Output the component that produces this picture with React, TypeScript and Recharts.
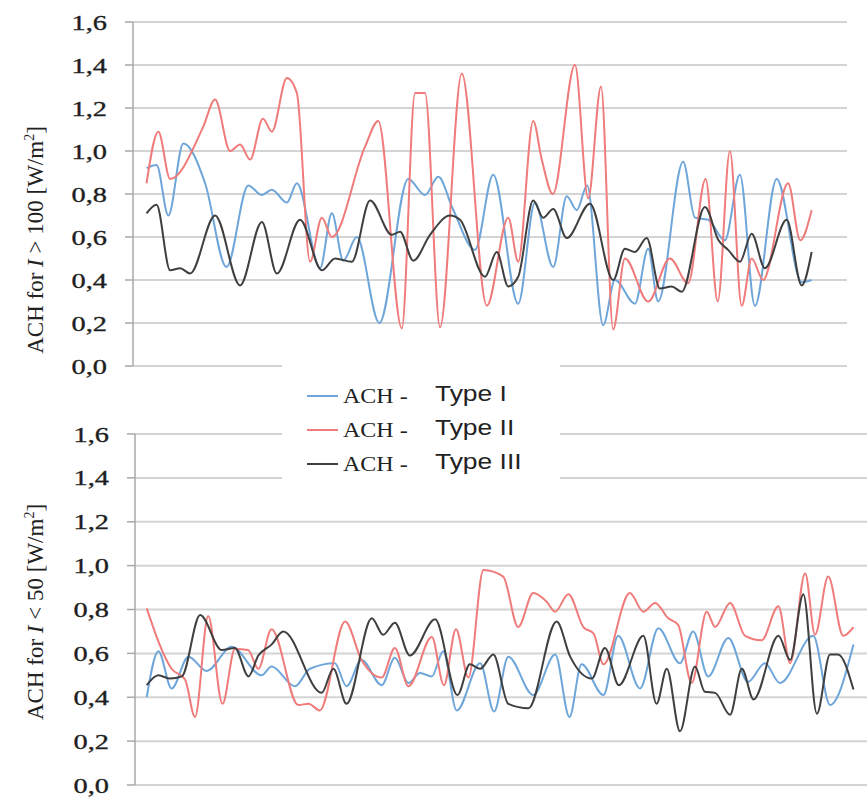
import React from 'react';
import { LineChart, Line, XAxis, YAxis, CartesianGrid } from 'recharts';

// ---- shared ----
const yTicks = [0, 0.2, 0.4, 0.6, 0.8, 1.0, 1.2, 1.4, 1.6];
const seriesNames = ['Type I', 'Type II', 'Type III'];
const seriesColors = ['#6fa6da', '#f07b7b', '#3f3f3f'];

// ---- top panel (I > 100 W/m2): [time step, ACH] ----
const topTypeI: [number, number][] = [
  [3.8, 0.92], [6.6, 0.935], [9.9, 0.7], [14.1, 1.035], [20.2, 0.85], [26.2, 0.46], [32.3, 0.84],
  [36.1, 0.795], [38.9, 0.82], [43.1, 0.76], [45.9, 0.85], [52.4, 0.455], [55.7, 0.71], [58.9, 0.49],
  [62.7, 0.6], [69.0, 0.2], [77.1, 0.87], [81.8, 0.795], [85.5, 0.88], [89.6, 0.73], [95.8, 0.54],
  [100.9, 0.89], [107.9, 0.29], [112.6, 0.76], [117.7, 0.46], [121.5, 0.79], [124.3, 0.725],
  [127.2, 0.84], [131.7, 0.19], [135.0, 0.4], [140.6, 0.29], [144.3, 0.545], [147.1, 0.3],
  [154.1, 0.95], [157.4, 0.69], [161.1, 0.68], [165.8, 0.585], [170.0, 0.89], [174.2, 0.28],
  [180.3, 0.87], [187.3, 0.39], [190.1, 0.4],
];
const topTypeII: [number, number][] = [
  [3.8, 0.85], [7.1, 1.09], [10.4, 0.87], [19.6, 1.11], [23.0, 1.24], [27.2, 1.0], [30.0, 1.03],
  [32.8, 0.96], [36.4, 1.15], [38.9, 1.09], [43.1, 1.34], [45.9, 1.27], [49.6, 0.485], [52.9, 0.69],
  [55.7, 0.6], [65.0, 1.02], [68.7, 1.14], [75.3, 0.175], [79.0, 1.27], [81.8, 1.27], [86.0, 0.18],
  [92.1, 1.36], [99.1, 0.28], [105.1, 0.69], [107.9, 0.485], [112.1, 1.14], [114.5, 0.96],
  [117.6, 0.8], [123.8, 1.4], [127.5, 0.78], [131.1, 1.3], [134.5, 0.17], [137.8, 0.5], [144.3, 0.3],
  [150.4, 0.5], [155.5, 0.385], [160.4, 0.87], [163.8, 0.3], [167.2, 1.0], [170.5, 0.28],
  [173.3, 0.5], [176.5, 0.4], [183.5, 0.85], [186.9, 0.585], [190.1, 0.725],
];
const topTypeIII: [number, number][] = [
  [3.8, 0.71], [6.6, 0.75], [10.4, 0.445], [13.2, 0.455], [16.0, 0.43], [23.0, 0.7], [30.0, 0.375],
  [36.1, 0.67], [40.3, 0.43], [46.8, 0.68], [52.9, 0.445], [56.6, 0.5], [61.3, 0.485], [66.4, 0.77],
  [72.5, 0.61], [74.8, 0.625], [78.5, 0.49], [83.2, 0.61], [88.8, 0.7], [91.6, 0.68], [98.6, 0.415],
  [101.9, 0.53], [105.1, 0.37], [107.9, 0.415], [112.1, 0.77], [114.9, 0.69], [117.7, 0.73],
  [121.5, 0.595], [128.0, 0.755], [134.5, 0.4], [137.8, 0.545], [140.6, 0.53], [143.9, 0.595],
  [147.6, 0.36], [150.9, 0.37], [153.7, 0.345], [160.2, 0.74], [164.0, 0.585], [166.7, 0.54],
  [170.0, 0.485], [173.3, 0.615], [177.0, 0.455], [183.1, 0.68], [187.3, 0.375], [190.1, 0.53],
];

// ---- bottom panel (I < 50 W/m2): [time step, ACH] ----
const botTypeI: [number, number][] = [
  [3.2, 0.4], [6.4, 0.61], [10.0, 0.44], [14.6, 0.585], [19.6, 0.52], [26.4, 0.63], [34.6, 0.5],
  [37.3, 0.54], [43.7, 0.45], [47.8, 0.53], [54.6, 0.555], [57.8, 0.45], [61.9, 0.57], [67.4, 0.455],
  [71.0, 0.58], [74.7, 0.465], [77.9, 0.51], [81.1, 0.495], [84.2, 0.61], [87.9, 0.34], [94.3, 0.555],
  [98.1, 0.335], [102.0, 0.585], [108.8, 0.41], [114.8, 0.595], [118.7, 0.31], [122.0, 0.55],
  [128.0, 0.41], [132.0, 0.68], [138.0, 0.44], [143.0, 0.715], [148.9, 0.555], [152.5, 0.7],
  [156.6, 0.495], [162.1, 0.67], [167.5, 0.47], [172.1, 0.555], [176.2, 0.465], [185.3, 0.68],
  [189.9, 0.365], [196.3, 0.64],
];
const botTypeII: [number, number][] = [
  [3.2, 0.805], [10.0, 0.53], [13.7, 0.48], [16.4, 0.31], [20.0, 0.77], [23.9, 0.37], [27.3, 0.62],
  [30.9, 0.615], [33.7, 0.53], [37.3, 0.71], [44.6, 0.365], [47.4, 0.37], [50.5, 0.34], [57.4, 0.745],
  [61.9, 0.57], [67.4, 0.49], [71.0, 0.625], [74.7, 0.45], [81.1, 0.675], [84.4, 0.455], [87.7, 0.71],
  [91.1, 0.49], [95.2, 0.98], [100.6, 0.95], [104.7, 0.72], [108.8, 0.875], [112.5, 0.835],
  [114.8, 0.79], [118.4, 0.87], [122.5, 0.72], [125.3, 0.69], [128.0, 0.55], [135.2, 0.875],
  [138.9, 0.79], [142.1, 0.83], [145.7, 0.76], [148.4, 0.73], [152.1, 0.465], [156.2, 0.79],
  [158.5, 0.72], [162.6, 0.83], [166.7, 0.68], [171.2, 0.66], [175.8, 0.815], [179.0, 0.555],
  [183.1, 0.965], [185.8, 0.685], [189.4, 0.95], [193.5, 0.68], [196.3, 0.72],
];
const botTypeIII: [number, number][] = [
  [3.2, 0.455], [6.4, 0.5], [9.6, 0.485], [12.8, 0.495], [17.8, 0.775], [23.7, 0.615], [27.3, 0.625],
  [31.0, 0.495], [33.7, 0.59], [37.3, 0.64], [40.5, 0.7], [51.0, 0.42], [54.2, 0.53], [57.8, 0.37],
  [64.7, 0.76], [67.8, 0.685], [71.0, 0.74], [75.1, 0.59], [82.0, 0.755], [88.1, 0.41], [91.5, 0.55],
  [94.3, 0.53], [97.9, 0.595], [102.0, 0.37], [107.5, 0.35], [115.2, 0.745], [118.9, 0.585],
  [124.8, 0.485], [128.4, 0.625], [132.2, 0.455], [138.9, 0.68], [142.5, 0.37], [145.3, 0.53],
  [148.9, 0.245], [153.0, 0.54], [155.7, 0.425], [158.5, 0.42], [162.6, 0.32], [165.8, 0.53],
  [169.0, 0.39], [175.8, 0.68], [179.0, 0.57], [182.6, 0.87], [186.3, 0.325], [189.9, 0.595],
  [192.1, 0.595], [196.3, 0.435],
];

const toRows = (pts: [number, number][]) => pts.map(([t, v]) => ({ t, v }));
const fmt = (v: number) => v.toFixed(1).replace('.', ',');

const SERIF = '"Liberation Serif", "Times New Roman", serif';
const SANS = '"Liberation Sans", Arial, sans-serif';

const Tick = (props: any) => {
  const { x, y, payload } = props;
  return (
    <text
      transform={`translate(${x},${y}) scale(1.35,1)`}
      x={0}
      y={0}
      dy="0.36em"
      textAnchor="end"
      fontFamily={SERIF}
      fontSize={21}
      fill="#1e1e1e"
      stroke="#1e1e1e"
      strokeWidth={0.35}
    >
      {fmt(payload.value)}
    </text>
  );
};

type PanelProps = {
  series: [number, number][][];
  width: number;
  height: number;
  margin: { top: number; right: number; bottom: number; left: number };
  axisWidth: number;
};

const Panel = ({ series, width, height, margin, axisWidth }: PanelProps) => (
  <LineChart width={width} height={height} margin={margin}>
    <CartesianGrid vertical={false} stroke="#d4d4d4" strokeWidth={2} />
    <XAxis type="number" dataKey="t" domain={[0, 200]} hide allowDataOverflow />
    <YAxis
      type="number"
      domain={[0, 1.6]}
      ticks={yTicks}
      interval={0}
      width={axisWidth}
      axisLine={{ stroke: '#a8a8a8', strokeWidth: 1.5 }}
      tickLine={{ stroke: '#a8a8a8', strokeWidth: 1.5 }}
      tickSize={8}
      tickMargin={18}
      tick={<Tick />}
    />
    {series.map((pts, i) => (
      <Line
        key={seriesNames[i]}
        data={toRows(pts)}
        dataKey="v"
        name={seriesNames[i]}
        type="monotone"
        stroke={seriesColors[i]}
        strokeWidth={2}
        dot={false}
        activeDot={false}
        isAnimationActive={false}
      />
    ))}
  </LineChart>
);

const AxisTitle = ({ cond, cx, cy }: { cond: string; cx: number; cy: number }) => (
  <div
    style={{
      position: 'absolute',
      left: cx,
      top: cy,
      transform: 'translate(-50%, -50%) rotate(-90deg)',
      whiteSpace: 'nowrap',
      fontFamily: SERIF,
      fontSize: 23,
      color: '#222',
      lineHeight: 1,
    }}
  >
    ACH for <i>I</i> {cond} [W/m<sup style={{ fontSize: 14, verticalAlign: 'super', lineHeight: 0 }}>2</sup>]
  </div>
);

export default function App() {
  return (
    <div style={{ position: 'absolute', left: 0, top: 0, width: 867, height: 800, background: '#fff', overflow: 'hidden' }}>
      <div style={{ position: 'absolute', left: 0, top: 0 }}>
        <Panel
          series={[topTypeI, topTypeII, topTypeIII]}
          width={867}
          height={380}
          margin={{ top: 22, right: 20, bottom: 14, left: 0 }}
          axisWidth={133}
        />
      </div>
      <div style={{ position: 'absolute', left: 0, top: 390 }}>
        <Panel
          series={[botTypeI, botTypeII, botTypeIII]}
          width={867}
          height={410}
          margin={{ top: 44, right: 0, bottom: 15, left: 0 }}
          axisWidth={135}
        />
      </div>
      <AxisTitle cond="> 100" cx={35} cy={240} />
      <AxisTitle cond="< 50" cx={35} cy={612} />
      <div
        style={{
          position: 'absolute',
          left: 282,
          top: 364,
          width: 278,
          height: 118,
          background: '#fff',
          paddingTop: 15,
          boxSizing: 'border-box',
        }}
      >
        {seriesNames.map((n, i) => (
          <div key={n} style={{ height: 34, display: 'flex', alignItems: 'center', position: 'relative' }}>
            <div style={{ marginLeft: 25, width: 31, height: 2, background: seriesColors[i] }} />
            <span
              style={{
                display: 'inline-block',
                fontFamily: SERIF,
                fontSize: 20,
                color: '#222',
                transform: 'scaleX(1.2)',
                transformOrigin: 'left center',
                marginLeft: 5,
                width: 54,
              }}
            >
              ACH -
            </span>
            <span
              style={{
                display: 'inline-block',
                fontFamily: SANS,
                fontSize: 22,
                color: '#222',
                transform: 'scaleX(1.2)',
                transformOrigin: 'left center',
                marginLeft: 38,
                marginTop: -4,
              }}
            >
              {n}
            </span>
          </div>
        ))}
      </div>
    </div>
  );
}
